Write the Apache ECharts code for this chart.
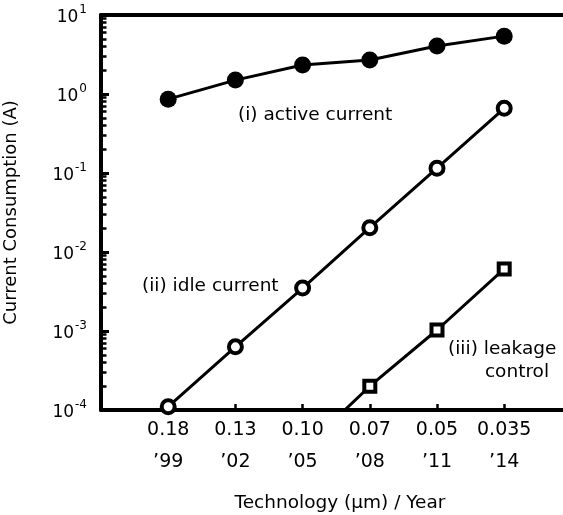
<!DOCTYPE html>
<html>
<head>
<meta charset="utf-8">
<script src="https://cdn.jsdelivr.net/npm/echarts@6/dist/echarts.min.js"></script>
<style>
  html, body { margin: 0; padding: 0; background: #fff; }
  #chart { width: 563px; height: 515px; }
</style>
</head>
<body>
<div id="chart"></div>
<script>
// Technology nodes (µm) and their years
const nodes = ['0.18', '0.13', '0.10', '0.07', '0.05', '0.035'];
const years = ['\u201999', '\u201902', '\u201905', '\u201908', '\u201911', '\u201914'];

// Current consumption in amperes, one value per node
const activeCurrent = [0.86, 1.5, 2.33, 2.7, 4.05, 5.4];
const idleCurrent = [1.1e-4, 6.3e-4, 3.5e-3, 2.03e-2, 0.115, 0.66];
// leakage-controlled curve starts below the axis floor at 0.10 µm
const leakageCurrent = [null, null, 3.1e-5, 2.0e-4, 1.03e-3, 6.1e-3];

// decade range of the log axis
const yMin = 1e-4, yMax = 10;

const FONT = 'DejaVu Sans';
const INK = '#000';

function pairs(arr, hiddenIdx) {
  const out = [];
  arr.forEach((v, i) => {
    if (v == null) return;
    const item = { value: [i, v] };
    if (hiddenIdx && hiddenIdx.indexOf(i) >= 0) item.symbol = 'none';
    out.push(item);
  });
  return out;
}

// minor tick values 2..9 x 10^n inside each decade
const minorTicks = [];
for (let e = Math.log10(yMin); e < Math.log10(yMax); e++) {
  for (let k = 2; k <= 9; k++) minorTicks.push(k * Math.pow(10, e));
}

const chart = echarts.init(document.getElementById('chart'), null, { renderer: 'canvas' });

const lineStyle = { color: INK, width: 3 };

chart.setOption({
  animation: false,
  backgroundColor: '#fff',
  grid: { left: 101, right: 0, top: 15, bottom: 105, outerBoundsMode: 'none', containLabel: false },
  xAxis: [
    {
      type: 'value',
      min: -1,
      max: 5.875,
      interval: 1,
      splitLine: { show: false },
      axisLine: { onZero: false, lineStyle: { color: INK, width: 4 } },
      axisTick: { inside: true, length: 6, lineStyle: { color: INK, width: 2.5 } },
      axisLabel: {
        margin: 4,
        color: INK,
        fontFamily: FONT,
        fontSize: 19,
        lineHeight: 32,
        showMaxLabel: false,
        formatter: function (v) {
          if (v < 0 || v > nodes.length - 1 || Math.round(v) !== v) return '';
          return nodes[v] + '\n' + years[v];
        }
      },
      name: 'Technology (\u03bcm) / Year',
      nameLocation: 'middle',
      nameGap: 84,
      nameTextStyle: { color: INK, fontFamily: FONT, fontSize: 18.5, padding: [0, 0, 0, 16] }
    },
    {
      type: 'value',
      position: 'top',
      min: -1,
      max: 5.875,
      splitLine: { show: false },
      axisLine: { onZero: false, lineStyle: { color: INK, width: 4 } },
      axisTick: { show: false },
      axisLabel: { show: false }
    }
  ],
  yAxis: [
    {
      type: 'log',
      logBase: 10,
      min: yMin,
      max: yMax,
      position: 'left',
      splitLine: { show: false },
      axisLine: { onZero: false, lineStyle: { color: INK, width: 4 } },
      axisTick: { inside: true, length: 8, lineStyle: { color: INK, width: 3 } },
      axisLabel: {
        margin: 14,
        color: INK,
        fontFamily: FONT,
        formatter: function (v) {
          const e = Math.round(Math.log10(v));
          return '{b|10}{s|' + (e < 0 ? '-' + (-e) : e) + '}';
        },
        rich: {
          b: { fontFamily: FONT, fontSize: 17, color: INK, lineHeight: 22, verticalAlign: 'bottom' },
          s: { fontFamily: FONT, fontSize: 12, color: INK, lineHeight: 22, verticalAlign: 'top', padding: [0, 0, 8, 1] }
        }
      },
      name: 'Current Consumption (A)',
      nameLocation: 'middle',
      nameGap: 81,
      nameRotate: 90,
      nameTextStyle: { color: INK, fontFamily: FONT, fontSize: 18 }
    },
    {
      type: 'log',
      logBase: 10,
      min: yMin,
      max: yMax,
      position: 'left',
      offset: 0,
      splitLine: { show: false },
      axisLine: { show: false, onZero: false },
      axisTick: { inside: true, length: 5.5, customValues: minorTicks, lineStyle: { color: INK, width: 2.5 } },
      axisLabel: { show: false }
    }
  ],
  series: [
    {
      name: 'active current',
      type: 'line',
      data: pairs(activeCurrent),
      symbol: 'circle',
      symbolSize: 17,
      itemStyle: { color: INK, borderColor: INK, borderWidth: 0 },
      lineStyle: lineStyle,
      z: 3
    },
    {
      name: 'idle current',
      type: 'line',
      data: pairs(idleCurrent),
      symbol: 'circle',
      symbolSize: 13,
      itemStyle: { color: '#fff', borderColor: INK, borderWidth: 4 },
      lineStyle: lineStyle,
      z: 3
    },
    {
      name: 'leakage control',
      type: 'line',
      data: pairs(leakageCurrent, [2]),
      symbol: 'rect',
      symbolSize: 11,
      clip: true,
      itemStyle: { color: '#fff', borderColor: INK, borderWidth: 4 },
      lineStyle: lineStyle,
      z: 3
    }
  ],
  graphic: [
    { type: 'text', x: 238, y: 115, style: { text: '(i) active current', font: '18.5px "' + FONT + '"', fill: INK, verticalAlign: 'middle' } },
    { type: 'text', x: 142, y: 286, style: { text: '(ii) idle current', font: '18.5px "' + FONT + '"', fill: INK, verticalAlign: 'middle' } },
    { type: 'text', x: 448, y: 349, style: { text: '(iii) leakage', font: '18.5px "' + FONT + '"', fill: INK, verticalAlign: 'middle' } },
    { type: 'text', x: 517, y: 372, style: { text: 'control', font: '18.5px "' + FONT + '"', fill: INK, verticalAlign: 'middle', align: 'center' } }
  ]
});
</script>
</body>
</html>
